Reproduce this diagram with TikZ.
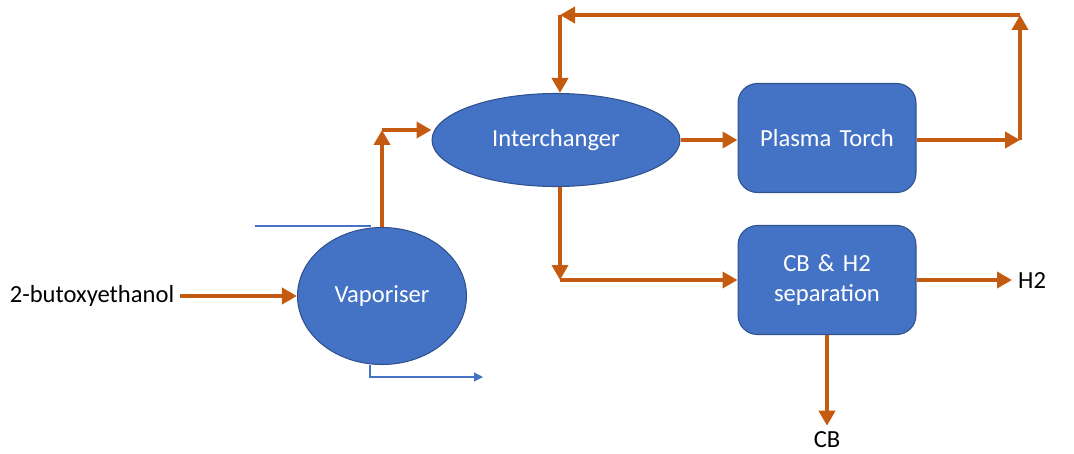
\documentclass[tikz,border=0pt]{standalone}
\usepackage{fontspec}
\setmainfont{Carlito}
\usepackage{tikz}
\usetikzlibrary{shapes.geometric,arrows.meta,positioning,calc}
\definecolor{bleuBloc}{RGB}{68,114,196}
\definecolor{bleuBord}{RGB}{47,82,143}
\definecolor{orangeFlux}{RGB}{197,90,17}

\begin{document}
\begin{tikzpicture}[x=0.02cm,y=-0.02cm,font=\fontsize{14}{17}\selectfont,
  ovale/.style={ellipse,draw=bleuBord,line width=0.6pt,fill=bleuBloc,text=white,
                inner sep=0pt},
  bloc/.style={rectangle,rounded corners=11pt,minimum width=3.56cm,minimum height=2.18cm,
               text centered,text width=3.2cm,draw=bleuBord,line width=0.6pt,
               fill=bleuBloc,text=white},
  flux/.style={-{Triangle[length=0.3cm,width=0.32cm]},line width=2.3pt,orangeFlux},
  fil/.style={bleuBloc,line width=0.6pt}]

  \useasboundingbox (0,0) rectangle (1074,453);

  \node[ovale,minimum width=3.38cm,minimum height=2.74cm] (VAP) at (382,296) {Vaporiser};
  \node[ovale,minimum width=4.96cm,minimum height=1.86cm] (INT) at (556,140) {Interchanger};
  \node[bloc] (PT) at (827,138) {Plasma Torch};
  \node[bloc] (SEP) at (827,280) {CB \& H2\\separation};

  \node (BUT) at (92,296) {2-butoxyethanol};
  \node[anchor=west] (H2) at (1012,281) {H2};
  \node (CB) at (827,440) {CB};

  \coordinate (montee) at (382,130);
  \coordinate (sortie) at (1020,140);
  \coordinate (haut) at (1020,15);
  \coordinate (retour) at (560,15);
  \coordinate (coude) at (560,280);
  \coordinate (filA) at (255,226);
  \coordinate (filB) at (370,226);
  \coordinate (filC) at (370,377);
  \coordinate (filD) at (483,377);

  \draw[flux] (BUT.east)--(VAP.west);
  \draw[flux] (VAP.north)--(montee);
  \draw[flux] (montee)--(montee -| INT.west);
  \draw[flux] (INT.east)--(PT.west |- INT.east);
  \draw[flux] (PT.east |- sortie)--(sortie);
  \draw[flux] (sortie)--(haut);
  \draw[flux] (haut)--(retour);
  \draw[flux] (retour)--(retour |- INT.north);
  \draw[flux] (coude |- INT.south)--(coude);
  \draw[flux] (coude)--(SEP.west);
  \draw[flux] (SEP.east)--(SEP.east -| H2.west);
  \draw[flux] (SEP.south)--(CB.north);

  \draw[fil] (filA)--(filB)--(filB |- VAP.north);
  \draw[fil,-{Triangle[length=5pt,width=5pt]}] (filB |- VAP.south)--(filC)--(filD);
\end{tikzpicture}
\end{document}
